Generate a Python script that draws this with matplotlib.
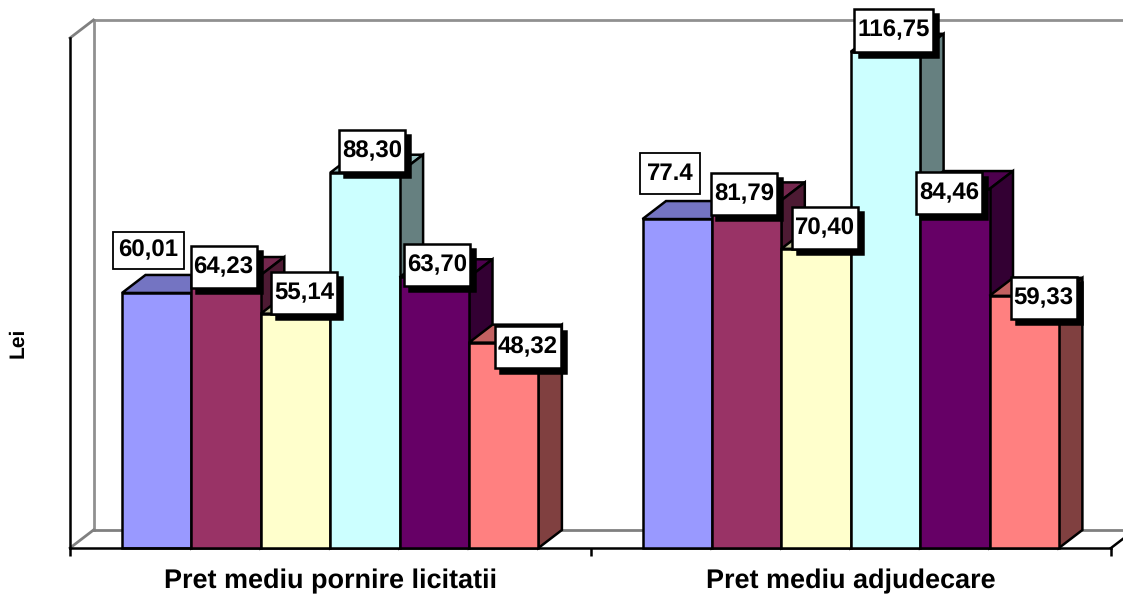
import matplotlib
matplotlib.use("Agg")
import matplotlib.pyplot as plt
from matplotlib.patches import Polygon, Rectangle
from matplotlib.transforms import Affine2D

plt.rcParams['font.family'] = ['Liberation Sans', 'DejaVu Sans']
plt.rcParams['text.hinting'] = 'none'
plt.rcParams['text.hinting_factor'] = 1

categories = ['Pret mediu pornire licitatii', 'Pret mediu adjudecare']
series_colors = ['#9999FF', '#993366', '#FFFFCC', '#CCFFFF', '#660066', '#FF8080']
group1_values = [60.01, 64.23, 55.14, 88.30, 63.70, 48.32]
group2_values = [77.4, 81.79, 70.40, 116.75, 84.46, 59.33]
group1_labels = ['60,01', '64,23', '55,14', '88,30', '63,70', '48,32']
group2_labels = ['77.4', '81,79', '70,40', '116,75', '84,46', '59,33']

# label offset from the top centre of its bar, in pixels
group1_offsets = [(-8.5, 42.5), (-2.5, 8), (8.5, 21), (7.5, 22), (3, 12), (24, -4)]
group2_offsets = [(-7, 45.5), (-2.5, 6), (9, 21), (8, 21.5), (-6, -4), (19.5, -2)]
group1_sizes = [(71, 37), (66, 42), (66, 42), (66, 42), (66, 42), (66, 42)]
group2_sizes = [(60, 41), (66, 42), (66, 42), (79, 43), (66, 42), (66, 42)]

W, H = 1123, 599
LEFT, RIGHT, BASE, TOP = 70, 1111, 548, 38
YMAX = 120
LW = 1.8
bar_w = 69.4 / (RIGHT - LEFT) * 2
gap = 52 / (RIGHT - LEFT) * 2
depth_x = 23.5 / (RIGHT - LEFT) * 2
depth_y = 18 / (BASE - TOP) * YMAX


def shade(color, factor):
    rgb = matplotlib.colors.to_rgb(color)
    return tuple(c * factor for c in rgb)


fig = plt.figure(figsize=(W / 100, H / 100), dpi=100)
ax = fig.add_axes([LEFT / W, 1 - BASE / H, (RIGHT - LEFT) / W, (BASE - TOP) / H])
ax.set_xlim(0, 2)
ax.set_ylim(0, YMAX)
ax.patch.set_visible(False)
for side in ['top', 'right']:
    ax.spines[side].set_visible(False)
for side in ['left', 'bottom']:
    ax.spines[side].set_linewidth(LW)
ax.set_yticks([])
ax.set_xticks([0, 1, 2])
ax.set_xticklabels([])
ax.tick_params(axis='x', which='major', length=6, width=LW, direction='out')
ax.set_xticks([0.5, 1.5], minor=True)
ax.set_xticklabels(categories, minor=True, fontsize=19.3, fontweight='bold')
ax.tick_params(axis='x', which='minor', length=0, pad=15)

# walls and floor
gray = '#909090'
wall_lw = 2.0
ax.plot([depth_x, depth_x], [depth_y, YMAX + depth_y], color=gray, lw=wall_lw, clip_on=False, zorder=1)
ax.plot([depth_x, 2.05], [YMAX + depth_y, YMAX + depth_y], color=gray, lw=wall_lw, clip_on=False, zorder=1)
ax.plot([depth_x, 2.05], [depth_y, depth_y], color='#808080', lw=wall_lw, clip_on=False, zorder=1)
ax.plot([0, depth_x], [0, depth_y], color='#808080', lw=wall_lw, clip_on=False, zorder=1)
ax.plot([0, depth_x], [YMAX, YMAX + depth_y], color='#808080', lw=wall_lw, clip_on=False, zorder=1)
ax.plot([2, 2 + depth_x / 2], [0, depth_y / 2], color='black', lw=LW, clip_on=False, zorder=1)

groups = [
    (group1_values, group1_labels, group1_offsets, group1_sizes),
    (group2_values, group2_labels, group2_offsets, group2_sizes),
]
z = 2
for g, (values, labels, offsets, sizes) in enumerate(groups):
    for j, v in enumerate(values):
        x0 = g + gap + j * bar_w
        x1 = x0 + bar_w
        color = series_colors[j]
        top = [(x0, v), (x1, v), (x1 + depth_x, v + depth_y), (x0 + depth_x, v + depth_y)]
        right = [(x1, 0), (x1 + depth_x, depth_y), (x1 + depth_x, v + depth_y), (x1, v)]
        ax.add_patch(Polygon(top, fc=shade(color, 0.76), ec='black', lw=LW, zorder=z, clip_on=False))
        ax.add_patch(Polygon(right, fc=shade(color, 0.5), ec='black', lw=LW, zorder=z, clip_on=False))
        ax.add_patch(Rectangle((x0, 0), bar_w, v, fc=color, ec='black', lw=LW, zorder=z, clip_on=False))
        z += 1

fig.canvas.draw()
for g, (values, labels, offsets, sizes) in enumerate(groups):
    for j, v in enumerate(values):
        xc = g + gap + (j + 0.5) * bar_w
        dx, dy = offsets[j]
        w, h = sizes[j]
        px, py = ax.transData.transform((xc, v))
        place = Affine2D().translate(px + dx, py + dy)
        plain = j == 0
        if not plain:
            ax.add_patch(Rectangle((-w / 2 + 5, -h / 2 - 5), w, h, fc='black', ec='black', lw=LW,
                                   transform=place, zorder=50, clip_on=False))
        ax.add_patch(Rectangle((-w / 2, -h / 2), w, h, fc='white', ec='black',
                               lw=1.3 if plain else LW, transform=place, zorder=51, clip_on=False))
        ax.annotate(labels[j], xy=(xc, v), xytext=(dx, dy), textcoords='offset pixels',
                    ha='center', va='center', fontsize=17, fontweight='bold', zorder=52,
                    annotation_clip=False)

fig.text(17.5 / W, 1 - 343 / H, 'Lei', rotation=90, ha='center', va='center',
         fontsize=15, fontweight='bold')

fig.savefig('out.png', dpi=100)
